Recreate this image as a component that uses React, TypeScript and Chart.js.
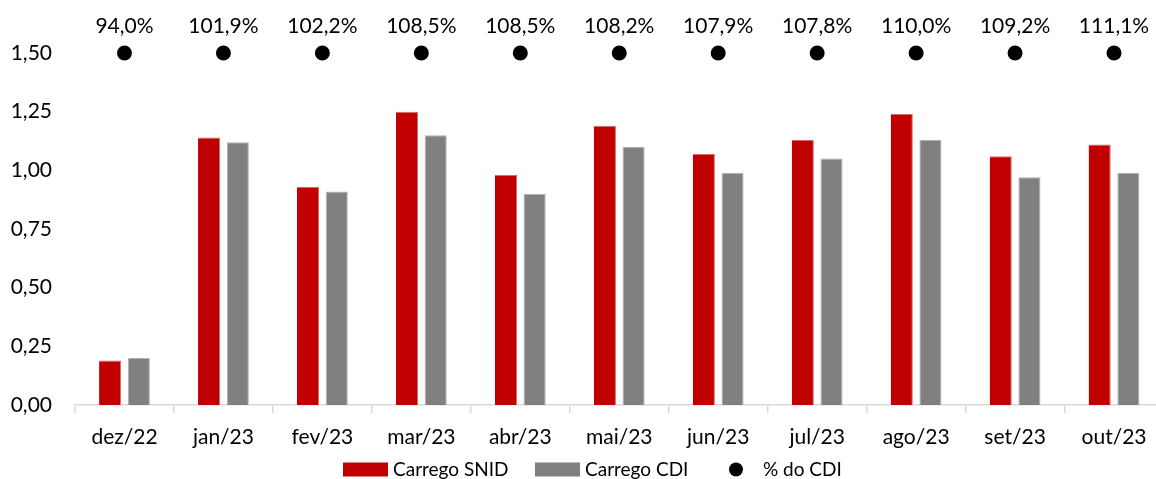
import React, { useEffect, useRef } from "react";
import { Chart, registerables } from "chart.js";

Chart.register(...registerables);

const categories = ["dez/22", "jan/23", "fev/23", "mar/23", "abr/23", "mai/23", "jun/23", "jul/23", "ago/23", "set/23", "out/23"];
const carregoSnid = [0.19, 1.14, 0.93, 1.25, 0.98, 1.19, 1.07, 1.13, 1.24, 1.06, 1.11];
const carregoCdi = [0.20, 1.12, 0.91, 1.15, 0.90, 1.10, 0.99, 1.05, 1.13, 0.97, 0.99];
const pctCdi = [94.0, 101.9, 102.2, 108.5, 108.5, 108.2, 107.9, 107.8, 110.0, 109.2, 111.1];
const dotLevel = [1.5, 1.5, 1.5, 1.5, 1.5, 1.5, 1.5, 1.5, 1.5, 1.5, 1.5];
const seriesNames = ["Carrego SNID", "Carrego CDI", "% do CDI"];

const RED = "#C00000";
const GRAY = "#808080";
const FONT = "Lato, sans-serif";
const FSIZE = 21;

const fmtPct = (v: number) => v.toFixed(1).replace(".", ",") + "%";

const pctLabelsPlugin = {
  id: "pctLabels",
  afterDatasetsDraw(chart: any) {
    const meta = chart.getDatasetMeta(2);
    const ctx = chart.ctx;
    ctx.save();
    ctx.font = `${FSIZE}px ${FONT}`;
    ctx.fillStyle = "#000";
    ctx.textAlign = "center";
    ctx.textBaseline = "middle";
    meta.data.forEach((pt: any, i: number) => {
      ctx.fillText(fmtPct(pctCdi[i]), pt.x, pt.y - 27);
    });
    ctx.restore();
  },
};

const legendPlugin = {
  id: "customLegend",
  afterDraw(chart: any) {
    const ctx = chart.ctx;
    ctx.save();
    ctx.font = `19px ${FONT}`;
    ctx.textBaseline = "middle";
    const y = 469.5;
    ctx.fillStyle = RED;
    ctx.fillRect(343, y - 7, 45, 14);
    ctx.fillStyle = "#000";
    ctx.fillText(seriesNames[0], 393, y);
    ctx.fillStyle = GRAY;
    ctx.fillRect(535, y - 7, 45, 14);
    ctx.fillStyle = "#000";
    ctx.fillText(seriesNames[1], 585, y);
    ctx.beginPath();
    ctx.arc(736, y, 7, 0, Math.PI * 2);
    ctx.fill();
    ctx.fillText(seriesNames[2], 763, y);
    ctx.restore();
  },
};

export default function App() {
  const ref = useRef<HTMLCanvasElement | null>(null);
  useEffect(() => {
    if (!ref.current) return;
    const chart = new Chart(ref.current, {
      type: "bar",
      data: {
        labels: categories,
        datasets: [
          {
            label: seriesNames[0],
            data: carregoSnid,
            backgroundColor: RED,
            borderColor: "#D86A6A",
            borderWidth: { top: 1, left: 0, right: 1, bottom: 0 } as any,
            barPercentage: 0.77,
            categoryPercentage: 0.58,
            order: 2,
          },
          {
            label: seriesNames[1],
            data: carregoCdi,
            backgroundColor: GRAY,
            borderColor: "#B0B0B0",
            borderWidth: { top: 1, left: 1, right: 1, bottom: 0 } as any,
            barPercentage: 0.77,
            categoryPercentage: 0.58,
            order: 2,
          },
          {
            type: "line" as any,
            label: seriesNames[2],
            data: dotLevel,
            showLine: false,
            pointRadius: 7.5,
            pointHoverRadius: 7.5,
            pointBackgroundColor: "#000",
            pointBorderWidth: 0,
            borderColor: "#000",
            clip: false as any,
            order: 1,
          },
        ],
      },
      options: {
        animation: false,
        responsive: false,
        maintainAspectRatio: false,
        layout: { padding: { top: 53, bottom: 30, right: 0, left: 0 } },
        plugins: {
          legend: { display: false },
          tooltip: { enabled: false },
        },
        scales: {
          x: {
            offset: true,
            grid: {
              offset: true,
              drawOnChartArea: false,
              drawTicks: true,
              tickLength: 8,
              color: "#D9D9D9",
              lineWidth: 1.5,
            },
            border: { color: "#D9D9D9", width: 1.5 },
            ticks: {
              color: "#000",
              font: { family: FONT, size: FSIZE },
              padding: 12,
              maxRotation: 0,
              autoSkip: false,
            },
            afterFit(scale: any) {
              scale.height = 44;
            },
          },
          y: {
            min: 0,
            max: 1.5,
            grid: { display: false, drawTicks: false },
            border: { display: false },
            ticks: {
              stepSize: 0.25,
              color: "#000",
              font: { family: FONT, size: FSIZE },
              padding: 23,
              callback: (v: any) => Number(v).toFixed(2).replace(".", ","),
            },
            afterFit(scale: any) {
              scale.width = 75;
            },
          },
        },
      },
      plugins: [pctLabelsPlugin, legendPlugin],
    });
    return () => chart.destroy();
  }, []);

  return (
    <div style={{ position: "fixed", left: 0, top: 0, width: 1156, height: 479, overflow: "hidden", background: "#fff" }}>
      <canvas ref={ref} width={1171} height={479} style={{ display: "block" }} />
    </div>
  );
}
